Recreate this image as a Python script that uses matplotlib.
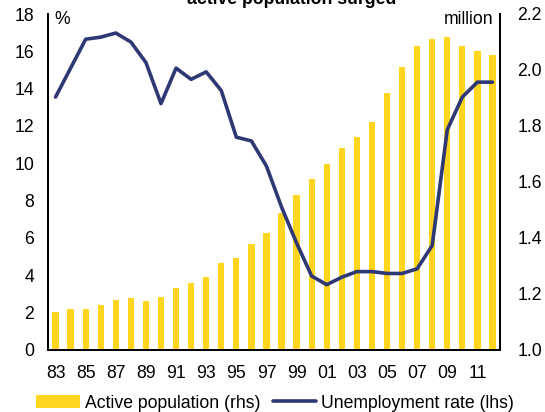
import matplotlib
matplotlib.use("Agg")
import matplotlib.pyplot as plt
import numpy as np

plt.rcParams['font.family'] = ['Liberation Sans', 'DejaVu Sans']

years = list(range(1983, 2013))
year_labels = ["83", "85", "87", "89", "91", "93", "95", "97", "99",
               "01", "03", "05", "07", "09", "11"]

# Active population, million (right axis)
active_population = [1.137, 1.146, 1.146, 1.160, 1.179, 1.185, 1.175, 1.190,
                     1.220, 1.240, 1.262, 1.312, 1.330, 1.377, 1.417, 1.490,
                     1.554, 1.610, 1.663, 1.722, 1.760, 1.813, 1.917, 2.010,
                     2.086, 2.111, 2.119, 2.086, 2.069, 2.055]

# Unemployment rate, % (left axis)
unemployment_rate = [13.55, 15.1, 16.65, 16.76, 16.98, 16.5, 15.4, 13.2,
                     15.1, 14.5, 14.9, 13.9, 11.4, 11.2, 9.85, 7.66,
                     5.73, 3.96, 3.5, 3.9, 4.2, 4.2, 4.1, 4.1,
                     4.35, 5.6, 11.8, 13.55, 14.35, 14.35]

bar_color = "#FFD520"
line_color = "#2E3875"
fs = 12.7

fig = plt.figure(figsize=(5.45, 4.12), dpi=100)
ax = fig.add_axes([48/545, 1 - 350/412, (500 - 48)/545, (350 - 14)/412])
ax2 = ax.twinx()

x = np.arange(len(years))

bars = ax2.bar(x, [v - 1.0 for v in active_population], bottom=1.0,
               width=0.42, color=bar_color, label="Active population (rhs)",
               zorder=1)
ax2.set_ylim(1.0, 2.2)
ax2.set_yticks([1.0, 1.2, 1.4, 1.6, 1.8, 2.0, 2.2])
ax2.set_yticklabels(["1.0", "1.2", "1.4", "1.6", "1.8", "2.0", "2.2"])

ax.set_zorder(ax2.get_zorder() + 1)
ax.patch.set_visible(False)
line, = ax.plot(x, unemployment_rate, color=line_color, lw=2.6,
                solid_capstyle='round', solid_joinstyle='round',
                label="Unemployment rate (lhs)")
ax.set_ylim(0, 18)
ax.set_yticks(range(0, 19, 2))
ax.set_xlim(-0.5, len(years) - 0.5)
ax.set_xticks(x[::2])
ax.set_xticklabels(year_labels)

for a in (ax, ax2):
    a.spines['top'].set_visible(False)
    for s in a.spines.values():
        s.set_linewidth(1.3)
    a.tick_params(length=0, labelsize=fs)
ax.tick_params(axis='y', pad=10)
ax.tick_params(axis='x', pad=11)
ax2.tick_params(axis='y', pad=12.5)

ax.text(0.015, 0.985, "%", transform=ax.transAxes, ha='left', va='center',
        fontsize=fs)
ax.text(0.985, 0.985, "million", transform=ax.transAxes, ha='right',
        va='center', fontsize=fs)

fig.text(292/545, 1 - 4/412, "active population surged", ha='center',
         va='baseline', fontsize=fs, fontweight='bold')

fig.legend(handles=[bars, line], loc='center',
           bbox_to_anchor=(0.505, 1 - 403/412),
           ncol=2, frameon=False, fontsize=fs, handlelength=2.45,
           handletextpad=0.3, columnspacing=0.7, borderpad=0)

fig.savefig("out.png", dpi=100)
